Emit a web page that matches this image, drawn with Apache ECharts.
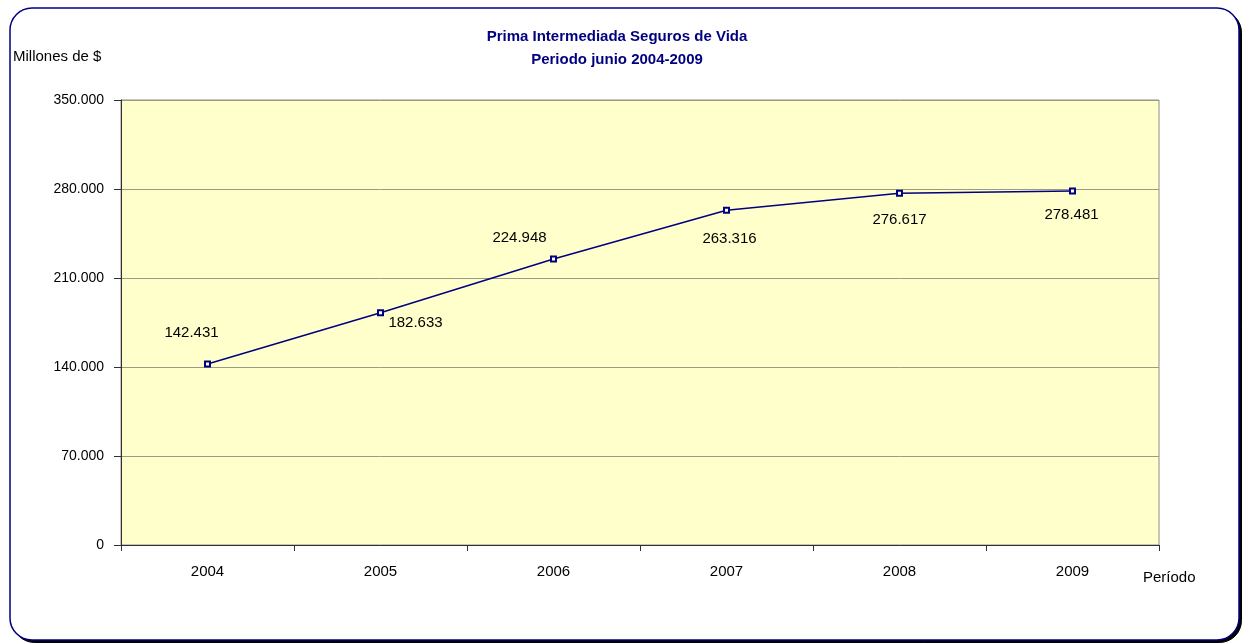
<!DOCTYPE html>
<html>
	<head>
		<meta charset="UTF-8">
		<title>Prima Intermediada Seguros de Vida</title>
		<script type="text/javascript" src="https://cdn.jsdelivr.net/npm/echarts@6/dist/echarts.min.js"></script>
	</head>
	<script>
		// datos
		var years = ["2004", "2005", "2006", "2007", "2008", "2009"];
		var prima = [142431, 182633, 224948, 263316, 276617, 278481];
		var yTicks = [0, 70000, 140000, 210000, 280000, 350000];

		// desplazamiento de cada etiqueta respecto al punto (solo estilo)
		var labelOffsets = [[-16, -31], [35, 10], [-34, -21], [3, 29], [0, 27], [-1, 24]];

		function fmt(v) {
			return String(v).replace(/\B(?=(\d{3})+(?!\d))/g, ".");
		}

		window.onload = function () {
			var chart = echarts.init(document.getElementById("main"));
			var seriesData = [];
			for (var i = 0; i < prima.length; i++) {
				seriesData.push({
					value: prima[i],
					label: {offset: labelOffsets[i]}
				});
			}
			var font = "'Liberation Sans', Arial, sans-serif";
			var titleFont = "bold 15px 'Liberation Sans', Arial, sans-serif";
			var option = {
				animation: false,
				backgroundColor: "#ffffff",
				textStyle: {fontFamily: font},
				graphic: [
					{type: "rect", z: -10, shape: {x: 12.5, y: 10.5, width: 1229, height: 632, r: 22},
						style: {fill: "#000000", stroke: "#000000", lineWidth: 1}},
					{type: "rect", z: -9, shape: {x: 10, y: 8, width: 1229, height: 632, r: 22},
						style: {fill: "#ffffff", stroke: "#000080", lineWidth: 1.5}},
					{type: "text", x: 617, y: 37, style: {text: "Prima Intermediada Seguros de Vida", font: titleFont, fill: "#000080", align: "center", verticalAlign: "middle"}},
					{type: "text", x: 617, y: 60, style: {text: "Periodo junio 2004-2009", font: titleFont, fill: "#000080", align: "center", verticalAlign: "middle"}},
					{type: "text", x: 13, y: 57, style: {text: "Millones de $", font: "15px " + font, fill: "#000000", verticalAlign: "middle"}},
					{type: "text", x: 1143, y: 578, style: {text: "Período", font: "15px " + font, fill: "#000000", verticalAlign: "middle"}}
				],
				grid: {
					left: 121, right: 89, top: 100, bottom: 99,
					show: true,
					backgroundColor: "#FFFFCC",
					borderColor: "#8c8c8c",
					borderWidth: 1
				},
				xAxis: {
					type: "category",
					data: years,
					boundaryGap: true,
					axisLine: {lineStyle: {color: "#303030", width: 1}},
					axisTick: {show: true, length: 6, lineStyle: {color: "#303030"}},
					axisLabel: {color: "#000000", fontSize: 15, margin: 19}
				},
				yAxis: {
					type: "value",
					min: yTicks[0],
					max: yTicks[yTicks.length - 1],
					interval: yTicks[1] - yTicks[0],
					axisLine: {show: true, lineStyle: {color: "#303030", width: 1}},
					axisTick: {show: true, length: 7, lineStyle: {color: "#303030"}},
					axisLabel: {color: "#000000", fontSize: 14, margin: 17, formatter: function (v) { return fmt(v); }},
					splitLine: {show: true, lineStyle: {color: "#9a9a86", width: 1}}
				},
				series: [{
					type: "line",
					data: seriesData,
					symbol: "emptyRect",
					symbolSize: 5,
					lineStyle: {color: "#000080", width: 1.5},
					itemStyle: {color: "#000080", borderColor: "#000080", borderWidth: 1.5},
					label: {
						show: true,
						position: "inside",
						color: "#000000",
						fontSize: 15,
						formatter: function (p) { return fmt(p.value); }
					}
				}]
			};
			chart.setOption(option);
		};
	</script>
	<body style="margin: 0;">
		<div id="main" style="width: 1248px; height: 644px;"></div>
	</body>
</html>
